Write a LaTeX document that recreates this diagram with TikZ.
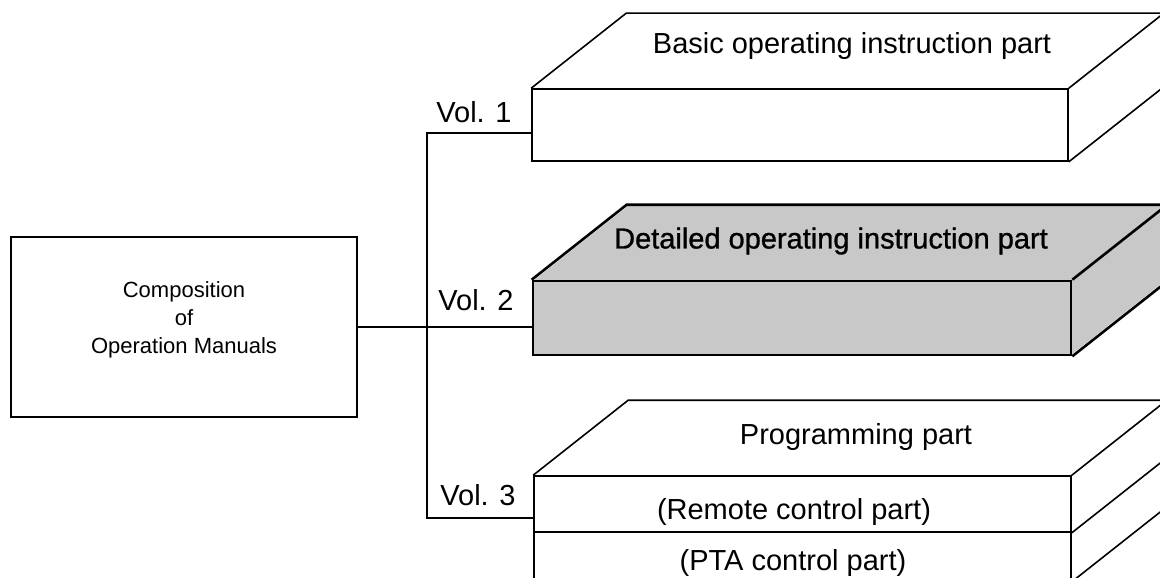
\documentclass[tikz,border=0pt]{standalone}
\usepackage{fontspec}
\setmainfont{Liberation Sans}
\newfontfamily\heavyfont[FakeBold=1]{Liberation Sans}
\usetikzlibrary{calc}
\definecolor{halftone}{HTML}{C8C8C8}
\begin{document}
\begin{tikzpicture}[x=1pt,y=-1pt,
  ln/.style={line width=1.6pt, line join=miter},
  hv/.style={line width=2.6pt, line join=miter},
  frontbox/.style={draw, rectangle, inner sep=0pt},
  big/.style={font=\fontsize{29}{34}\selectfont, inner sep=0pt},
  small/.style={font=\fontsize{22}{28}\selectfont, inner sep=0pt, align=center},
]
\useasboundingbox (0,0) rectangle (1160,578);
\fill[white] (0,0) rectangle (1160,578);
\clip (0,0) rectangle (1160,578);

% left box
\node[frontbox, ln, minimum width=346pt, minimum height=180pt] (lb) at (184,327) {};
\node[small] (lbt) at (184,320) {Composition\\of\\Operation Manuals};

% volume 1
\node[frontbox, ln, minimum width=536pt, minimum height=72pt] (b1) at (800,125) {};
\draw[ln] (b1.north west) -- ++(95,-75) -- ($(b1.north east)+(95,-75)$) -- (b1.north east);
\draw[ln] ($(b1.north east)+(95,-75)$) -- ($(b1.south east)+(95,-75)$) -- (b1.south east);
\node[big] (t1) at (852,46) {Basic operating instruction part};

% volume 2 (shaded)
\coordinate (b2nw) at (533,281);
\coordinate (b2ne) at (1071,281);
\coordinate (b2se) at (1071,355);
\fill[halftone] (b2nw) -- ++(95,-75) -- ($(b2ne)+(95,-75)$) -- ($(b2se)+(95,-75)$) -- (b2se) -- cycle;
\node[frontbox, hv, fill=halftone, minimum width=538pt, minimum height=74pt] (b2) at (802,318) {};
\draw[hv] (b2.north west) -- ++(95,-75) -- ($(b2.north east)+(95,-75)$) -- (b2.north east);
\draw[hv] ($(b2.north east)+(95,-75)$) -- ($(b2.south east)+(95,-75)$) -- (b2.south east);
\node[big, font=\heavyfont\fontsize{29}{34}\selectfont] (t2) at (831,241) {Detailed operating instruction part};

% volume 3
\node[frontbox, ln, minimum width=537pt, minimum height=56pt] (b3a) at (802.5,504) {};
\node[frontbox, ln, minimum width=537pt, minimum height=49pt] (b3b) at (802.5,556.5) {};
\draw[ln] (b3a.north west) -- ++(95,-75) -- ($(b3a.north east)+(95,-75)$) -- (b3a.north east);
\draw[ln] ($(b3a.north east)+(95,-75)$) -- ($(b3b.south east)+(95,-75)$);
\draw[ln] (b3a.south east) -- ++(95,-75);
\draw[ln] (b3b.south east) -- ++(95,-75);
\node[big] (t3) at (856,437) {Programming part};
\node[big] (t3a) at (794,512) {(Remote control part)};
\node[big] (t3b) at (793,563) {(PTA control part)};

% connectors
\coordinate (j1) at (427,133);
\coordinate (j3) at (427,518);
\draw[ln] (j1 -| b1.west) -- (j1) -- (j3) -- (j3 -| b3a.west);
\draw[ln] (lb.east) -- (lb.east -| b2.west);

\node[big] (v1) at (474,112) {Vol. 1};
\node[big] (v2) at (476,300) {Vol. 2};
\node[big] (v3) at (478,495) {Vol. 3};
\end{tikzpicture}
\end{document}
